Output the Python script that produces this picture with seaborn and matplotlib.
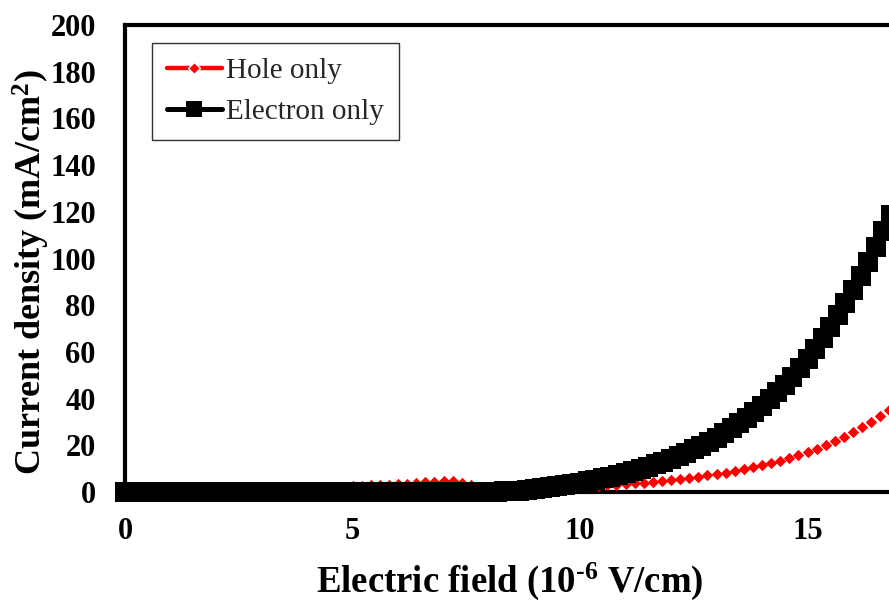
import matplotlib
matplotlib.use("Agg")
import matplotlib.pyplot as plt
import seaborn as sns
import pandas as pd
from matplotlib.lines import Line2D
from matplotlib.ticker import MultipleLocator, FixedLocator

# ---------------- data ----------------
series_labels = ["Hole only", "Electron only"]

hole_field = [0.0, 0.2, 0.4, 0.6, 0.8, 1.0, 1.2, 1.4, 1.6, 1.8,
              2.0, 2.2, 2.4, 2.6, 2.8, 3.0, 3.2, 3.4, 3.6, 3.8,
              4.0, 4.2, 4.4, 4.6, 4.8, 5.0, 5.2, 5.4, 5.6, 5.8,
              6.0, 6.2, 6.4, 6.6, 6.8, 7.0, 7.2, 7.4, 7.6, 7.8,
              8.0, 8.2, 8.4, 8.6, 8.8, 9.0, 9.2, 9.4, 9.6, 9.8,
              10.0, 10.2, 10.4, 10.6, 10.8, 11.0, 11.2, 11.4, 11.6, 11.8,
              12.0, 12.2, 12.4, 12.6, 12.8, 13.0, 13.2, 13.4, 13.6, 13.8,
              14.0, 14.2, 14.4, 14.6, 14.8, 15.0, 15.2, 15.4, 15.6, 15.8,
              16.0, 16.2, 16.4, 16.6, 16.8, 17.0]
hole_current = [0.0, 0.0, 0.0, 0.1, 0.1, 0.1, 0.1, 0.2, 0.2, 0.2,
                0.3, 0.3, 0.3, 0.4, 0.4, 0.5, 0.5, 0.6, 0.7, 0.8,
                0.9, 1.0, 1.2, 1.4, 1.7, 2.4, 2.6, 2.8, 2.9, 3.1,
                3.3, 3.5, 3.8, 4.1, 4.4, 4.8, 4.5, 3.8, 3.0, 2.1,
                1.3, 1.13, 1.22, 1.33, 1.44, 1.56, 1.69, 1.83, 1.98, 2.14,
                2.32, 2.51, 2.72, 2.95, 3.20, 3.46, 3.75, 4.06, 4.40, 4.77,
                5.16, 5.59, 6.06, 6.57, 7.11, 7.71, 8.35, 9.04, 9.79, 10.61,
                11.49, 12.45, 13.49, 14.61, 15.83, 17.15, 18.57, 20.12, 21.80, 23.61,
                25.58, 27.71, 30.01, 32.52, 35.22, 38.16]

electron_field = [0.0, 0.17, 0.33, 0.5, 0.67, 0.83,
                  1.0, 1.17, 1.33, 1.5, 1.67, 1.83,
                  2.0, 2.17, 2.33, 2.5, 2.67, 2.83,
                  3.0, 3.17, 3.33, 3.5, 3.67, 3.83,
                  4.0, 4.17, 4.33, 4.5, 4.67, 4.83,
                  5.0, 5.17, 5.33, 5.5, 5.67, 5.83,
                  6.0, 6.17, 6.33, 6.5, 6.67, 6.83,
                  7.0, 7.17, 7.33, 7.5, 7.67, 7.83,
                  8.0, 8.17, 8.33, 8.5, 8.67, 8.83,
                  9.0, 9.17, 9.33, 9.5, 9.67, 9.83,
                  10.0, 10.17, 10.33, 10.5, 10.67, 10.83,
                  11.0, 11.17, 11.33, 11.5, 11.67, 11.83,
                  12.0, 12.17, 12.33, 12.5, 12.67, 12.83,
                  13.0, 13.17, 13.33, 13.5, 13.67, 13.83,
                  14.0, 14.17, 14.33, 14.5, 14.67, 14.83,
                  15.0, 15.17, 15.33, 15.5, 15.67, 15.83,
                  16.0, 16.17, 16.33, 16.5, 16.67, 16.83,
                  17.0]
electron_current = [0.0, 0.0, 0.0, 0.0, 0.0, 0.0,
                    0.0, 0.0, 0.0, 0.0, 0.0, 0.0,
                    0.0, 0.0, 0.0, 0.0, 0.0, 0.0,
                    0.0, 0.0, 0.0, 0.0, 0.0, 0.0,
                    0.0, 0.0, 0.0, 0.0, 0.0, 0.0,
                    0.0, 0.0, 0.0, 0.0, 0.0, 0.0,
                    0.0, 0.0, 0.0, 0.0, 0.0, 0.0,
                    0.0, 0.05, 0.05, 0.1, 0.1, 0.15,
                    0.2, 0.2, 0.25, 0.3, 0.61, 0.95,
                    1.31, 1.69, 2.10, 2.54, 3.01, 3.51,
                    4.04, 4.61, 5.23, 5.87, 6.57, 7.32,
                    8.12, 8.97, 9.88, 10.86, 11.90, 13.01,
                    14.20, 15.47, 16.83, 18.29, 19.84, 21.50,
                    23.28, 25.17, 27.20, 29.37, 31.69, 34.17,
                    36.81, 39.64, 42.67, 45.91, 49.36, 53.06,
                    57.01, 61.23, 65.75, 70.57, 75.73, 81.0,
                    86.5, 92.3, 98.4, 104.9, 111.6, 118.5,
                    125.8]

x_major_ticks = [0, 5, 10, 15]
y_ticks = [0, 20, 40, 60, 80, 100, 120, 140, 160, 180, 200]

# ---------------- style ----------------
sns.set_style("white")
plt.rcParams["font.family"] = ["Liberation Serif", "DejaVu Serif"]
plt.rcParams["mathtext.fontset"] = "custom"
plt.rcParams["mathtext.rm"] = "Liberation Serif:bold"
plt.rcParams["mathtext.it"] = "Liberation Serif:bold"
plt.rcParams["mathtext.bf"] = "Liberation Serif:bold"
plt.rcParams["mathtext.default"] = "rm"

W, H = 889, 601
fig = plt.figure(figsize=(W / 100, H / 100), dpi=100)
fig.patch.set_facecolor("white")
ax = fig.add_axes([125 / W, 1 - 492 / H, 910 / W, 467 / H])

hole_df = pd.DataFrame({"field": hole_field, "current": hole_current})
elec_df = pd.DataFrame({"field": electron_field, "current": electron_current})

sns.scatterplot(data=hole_df, x="field", y="current", marker="D", s=5.8 ** 2,
                color="#ff0000", linewidth=0, ax=ax, clip_on=False, zorder=3,
                legend=False)
sns.scatterplot(data=elec_df, x="field", y="current", marker="s", s=14.0 ** 2,
                color="black", linewidth=0, ax=ax, clip_on=False, zorder=4,
                legend=False)

ax.set_xlim(0, 20)
ax.set_ylim(0, 200)
ax.xaxis.set_major_locator(FixedLocator(x_major_ticks))
ax.xaxis.set_minor_locator(MultipleLocator(1))
ax.yaxis.set_major_locator(FixedLocator(y_ticks))

for side in ["left", "bottom", "top", "right"]:
    ax.spines[side].set_visible(True)
    ax.spines[side].set_color("black")
    ax.spines[side].set_linewidth(3.0)

ax.tick_params(axis="both", which="both", direction="in", length=4, width=1.0,
               color="black", top=False, right=False, labelsize=22,
               labelcolor="black")
ax.tick_params(axis="x", which="major", pad=18)
ax.tick_params(axis="y", which="major", pad=21)
for lbl in ax.get_xticklabels() + ax.get_yticklabels():
    lbl.set_fontweight("bold")
    lbl.set_family("Liberation Serif")

ax.set_xlabel(r"Electric field (10$^{\text{-6}}$ V/cm)", fontsize=26.5,
              fontweight="bold", color="black")
ax.set_ylabel("Current density (mA/cm$^{2}$)", fontsize=26, fontweight="bold",
              color="black")
ax.xaxis.set_label_coords(0.423, -0.146)
ax.yaxis.set_label_coords(-0.0802, 0.471)

handles = [
    Line2D([], [], color="#ff0000", lw=3.2, marker="D", ms=6.5, mfc="#ff0000",
           mec="white", mew=1.0, solid_capstyle="round"),
    Line2D([], [], color="black", lw=3.6, marker="s", ms=12, mfc="black",
           mec="black", mew=0, solid_capstyle="round"),
]
leg = ax.legend(handles, series_labels, loc="upper left",
                bbox_to_anchor=(152 / W, 1 - 43 / H), bbox_transform=fig.transFigure,
                borderaxespad=0, frameon=True, fancybox=False, framealpha=1,
                edgecolor="#333333", prop={"family": "Liberation Serif", "size": 21},
                handlelength=1.9, handletextpad=0.15, borderpad=0.5,
                labelspacing=0.5)
leg.get_frame().set_linewidth(1.0)

fig.savefig("out.png", dpi=100)
